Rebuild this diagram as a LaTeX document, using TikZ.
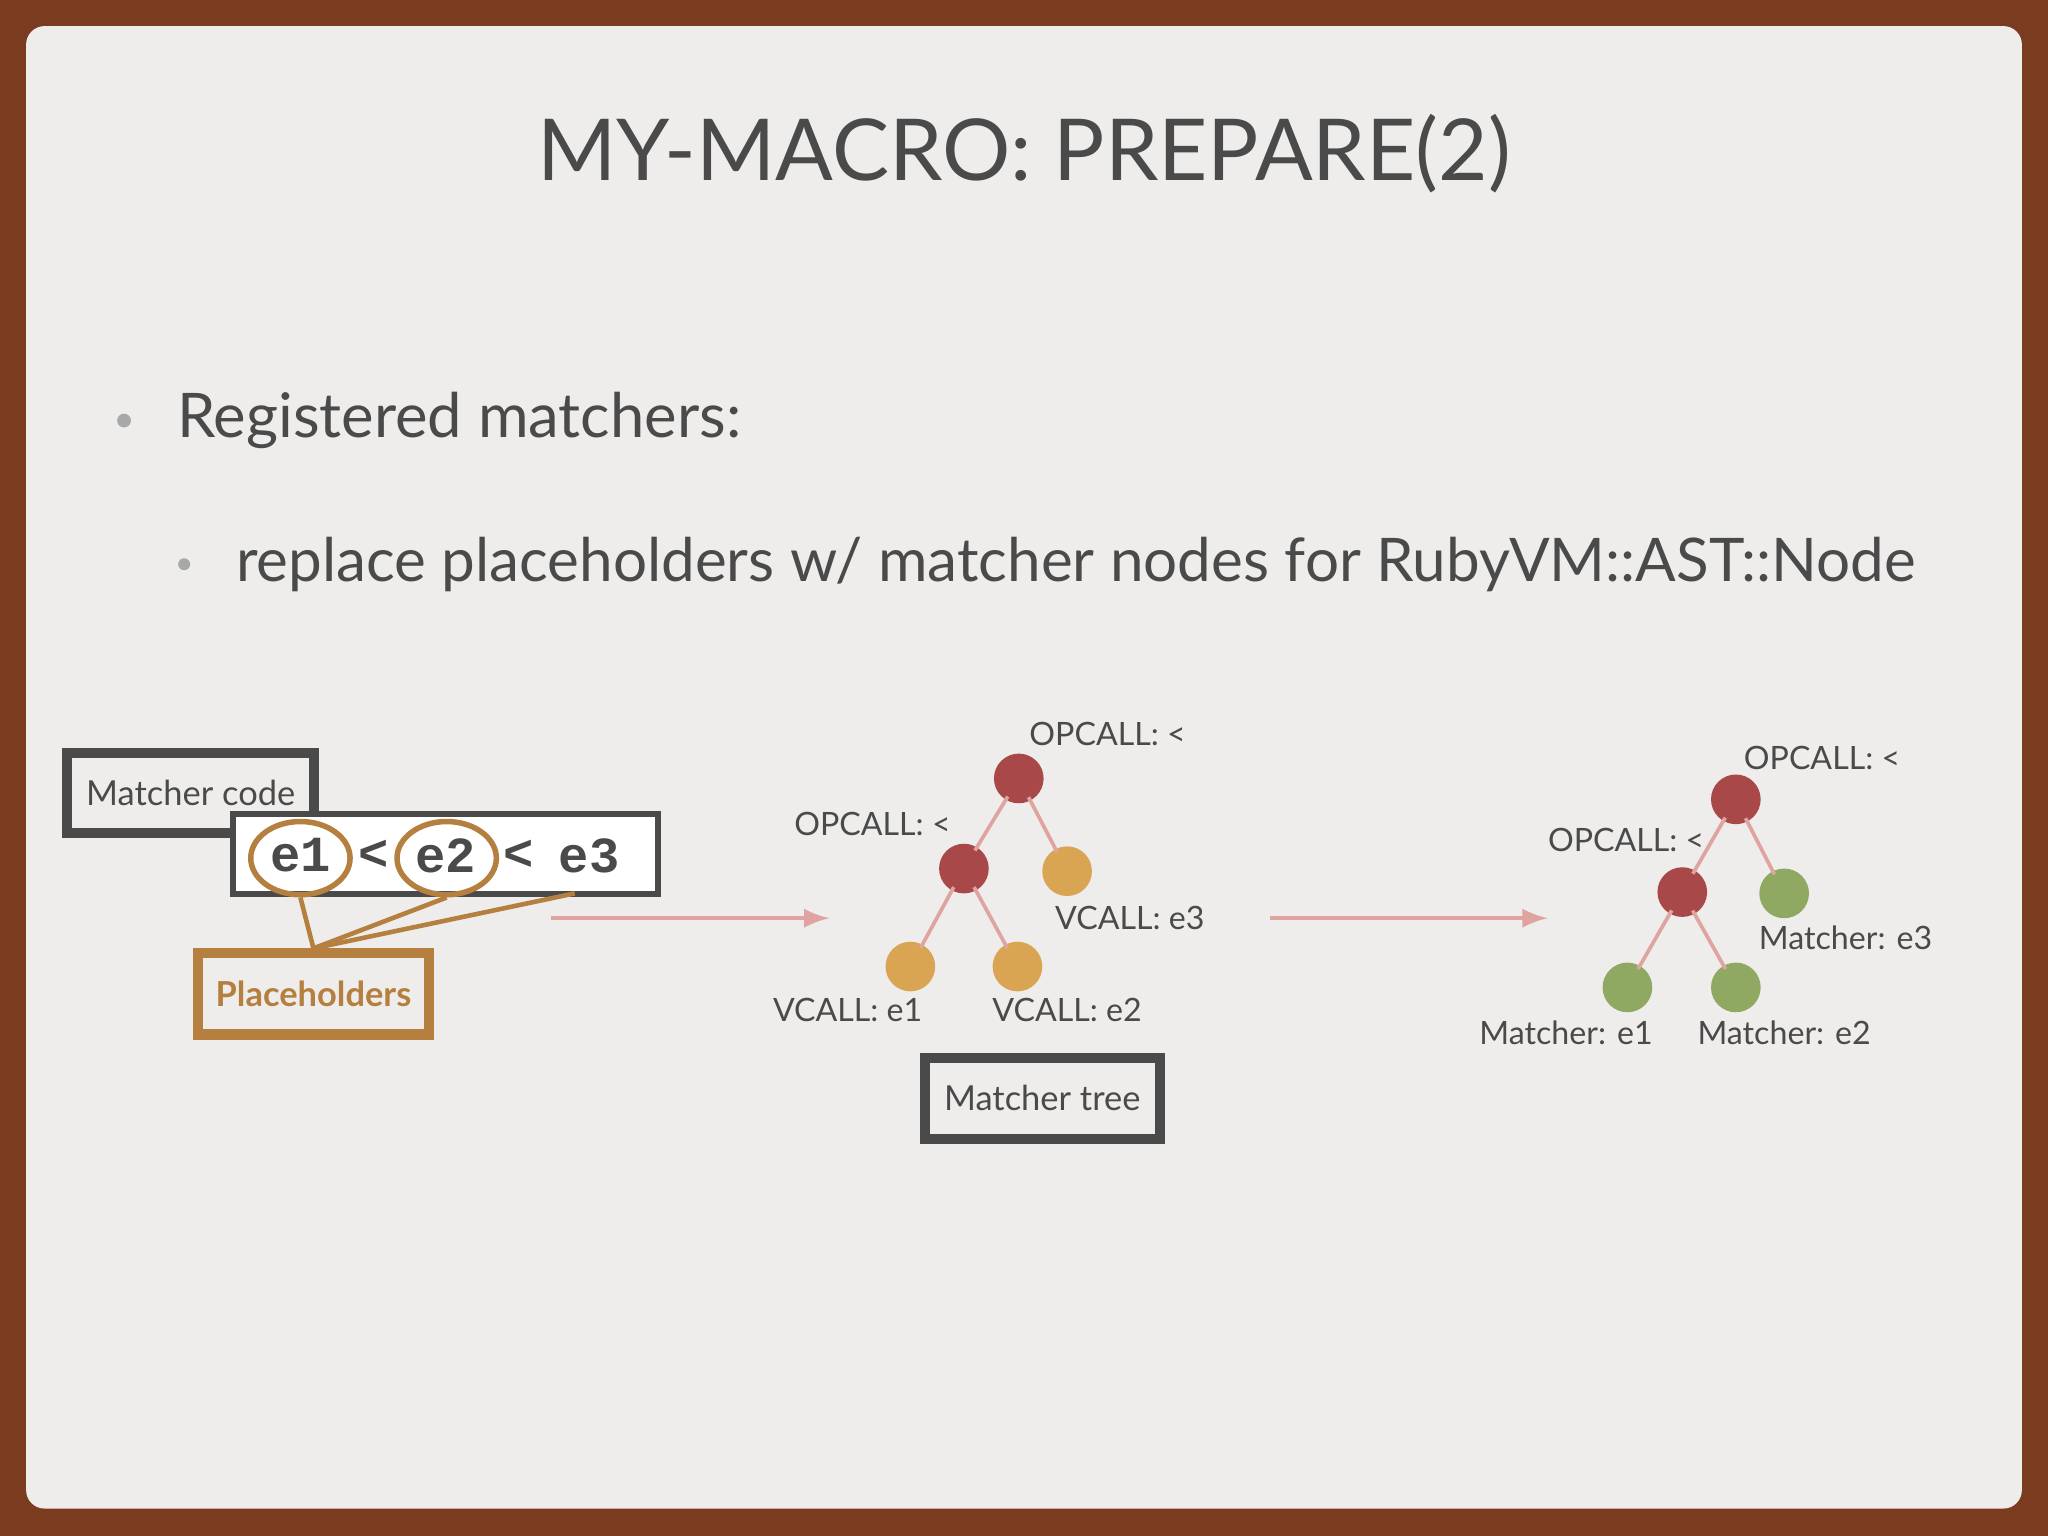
\documentclass[tikz,border=0pt]{standalone}
\usepackage{fontspec}
\setmainfont{Lato}
\setmonofont{Liberation Mono}
\usetikzlibrary{positioning,shapes.geometric}
\definecolor{frame}{HTML}{7A3B1E}
\definecolor{slide}{HTML}{EEEDEB}
\definecolor{ink}{HTML}{4A4A4A}
\definecolor{dot}{HTML}{A8A8A8}
\definecolor{brn}{HTML}{B5803F}
\definecolor{opred}{HTML}{A84848}
\definecolor{vorange}{HTML}{D9A552}
\definecolor{mgreen}{HTML}{8FA862}
\definecolor{pinkline}{HTML}{E0A4A0}
\begin{document}
\begin{tikzpicture}[x=0.01cm,y=-0.01cm,
    tag/.style={draw=ink, line width=2.2pt, inner sep=0pt, text=ink, font=\fontsize{7.5}{9}\selectfont},
    op/.style={circle, fill=opred, minimum size=0.38cm, inner sep=0pt},
    vc/.style={circle, fill=vorange, minimum size=0.38cm, inner sep=0pt},
    mt/.style={circle, fill=mgreen, minimum size=0.38cm, inner sep=0pt},
    lbl/.style={text=ink, font=\fontsize{7}{8}\selectfont},
    tok/.style={text=ink, font=\ttfamily\bfseries\fontsize{11}{13}\selectfont},
    branch/.style={draw=pinkline, line width=0.8pt, shorten <=-1pt, shorten >=-1pt},
    flow/.style={draw=pinkline, line width=0.9pt, -latex},
    hole/.style={ellipse, draw=brn, line width=1.2pt, minimum width=0.76cm, minimum height=0.56cm}
]
    % slide background
    \fill[frame] (0,0) rectangle (1568,1176);
    \fill[slide, rounded corners=4] (20,20) rectangle (1548,1155);
    \useasboundingbox (0,0) rectangle (1568,1176);

    % title and bullets
    \node[text=ink, font=\fontsize{18.6}{22}\selectfont] (title) at (784,118) {MY-MACRO: PREPARE(2)};
    \fill[dot] (95,322) circle (1.5pt);
    \node[text=ink, anchor=west, inner sep=0pt, font=\fontsize{13.4}{16}\selectfont] (b1) at (135,322) {Registered matchers:};
    \fill[dot] (141,432) circle (1.3pt);
    \node[text=ink, anchor=west, inner sep=0pt, font=\fontsize{13.1}{16}\selectfont] (b2) at (180,432) {replace placeholders w/ matcher nodes for RubyVM::AST::Node};

    % matcher code
    \node[tag, minimum width=1.89cm, minimum height=0.61cm] (mcode) at (146,607) {Matcher code};
    \node[draw=ink, line width=1.3pt, fill=white, minimum width=3.25cm, minimum height=0.61cm] (code) at (341,654) {};
    \node[tok] (t1) at (230,655) {e1};
    \node[tok] (t2) at (286,655) {<};
    \node[tok] (t3) at (341,655) {e2};
    \node[tok] (t4) at (397,655) {<};
    \node[tok] (t5) at (451,655) {e3};
    \node[hole] (e1) at (230,657) {};
    \node[hole] (e2) at (342,657) {};
    \coordinate (e3) at (440,684);
    \node[tag, draw=brn, text=brn, minimum width=1.77cm, minimum height=0.62cm] (ph) at (240,761) {\bfseries Placeholders};
    \draw[brn, line width=1pt] (ph.north) -- (e1.south);
    \draw[brn, line width=1pt] (ph.north) -- (e2.south);
    \draw[brn, line width=1pt] (ph.north) -- (e3);

    % first arrow
    \coordinate (a1s) at (422,703);
    \coordinate (a1e) at (635,703);
    \draw[flow] (a1s) -- (a1e);

    % matcher tree
    \node[op] (r) at (780,596) {};
    \node[op] (l) at (738,665) {};
    \node[vc] (rr) at (817,667) {};
    \node[vc] (ll) at (697,740) {};
    \node[vc] (lr) at (779,740) {};
    \draw[branch] (r) -- (l);
    \draw[branch] (r) -- (rr);
    \draw[branch] (l) -- (ll);
    \draw[branch] (l) -- (lr);
    \node[lbl] at (848,562) {OPCALL: <};
    \node[lbl] at (668,631) {OPCALL: <};
    \node[lbl] at (865,703) {VCALL: e3};
    \node[lbl] at (649,773) {VCALL: e1};
    \node[lbl] at (817,773) {VCALL: e2};
    \node[tag, minimum width=1.80cm, minimum height=0.62cm] (mtree) at (798,841) {Matcher tree};

    % second arrow
    \coordinate (a2s) at (972,703);
    \coordinate (a2e) at (1185,703);
    \draw[flow] (a2s) -- (a2e);

    % replaced tree
    \node[op] (R) at (1329,612) {};
    \node[op] (L) at (1288,683) {};
    \node[mt] (RR) at (1366,684) {};
    \node[mt] (LL) at (1246,756) {};
    \node[mt] (LR) at (1329,756) {};
    \draw[branch] (R) -- (L);
    \draw[branch] (R) -- (RR);
    \draw[branch] (L) -- (LL);
    \draw[branch] (L) -- (LR);
    \node[lbl] at (1395,580) {OPCALL: <};
    \node[lbl] at (1245,643) {OPCALL: <};
    \node[lbl] at (1413,718) {Matcher: e3};
    \node[lbl] at (1199,791) {Matcher: e1};
    \node[lbl] at (1366,791) {Matcher: e2};
\end{tikzpicture}
\end{document}
